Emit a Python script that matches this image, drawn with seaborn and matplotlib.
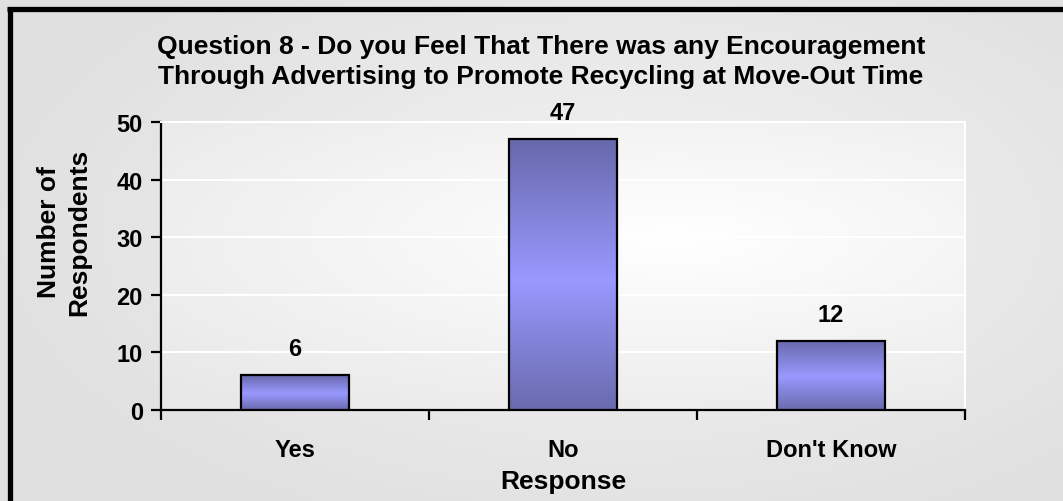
import numpy as np
import pandas as pd
import matplotlib
matplotlib.use("Agg")
import matplotlib.pyplot as plt
import seaborn as sns
from matplotlib.colors import LinearSegmentedColormap

categories = ["Yes", "No", "Don't Know"]
values = [6, 47, 12]
yticks = [0, 10, 20, 30, 40, 50]
title = ("Question 8 - Do you Feel That There was any Encouragement\n"
         "Through Advertising to Promote Recycling at Move-Out Time")

sns.set_theme(style="white")
plt.rcParams['font.family'] = ['Liberation Sans', 'DejaVu Sans']
plt.rcParams['font.weight'] = 'bold'
plt.rcParams['text.color'] = 'black'
plt.rcParams['axes.labelcolor'] = 'black'
plt.rcParams['xtick.color'] = 'black'
plt.rcParams['ytick.color'] = 'black'

W, H = 1063, 502
fig = plt.figure(figsize=(W / 100, H / 100), dpi=100)

# figure background gradient
bg = fig.add_axes([0, 0, 1, 1], zorder=-10)
yy, xx = np.mgrid[0:H, 0:W]
r = np.sqrt(((xx - 620) / 650.0) ** 2 + ((yy - 230) / 330.0) ** 2)
g = np.clip(1 - r, 0, 1)
bgcmap = LinearSegmentedColormap.from_list("bg", ["#e0e0e0", "#f4f4f4"])
bg.imshow(g, cmap=bgcmap, aspect="auto", extent=[0, 1, 0, 1], vmin=0, vmax=1)
bg.set_xlim(0, 1)
bg.set_ylim(0, 1)
bg.axis("off")
# outer frame (top and left visible)
bg.plot([7 / W, 1], [1 - 10 / H, 1 - 10 / H], color="black", lw=3.8, solid_capstyle="butt")
bg.plot([10 / W, 10 / W], [0, 1 - 8 / H], color="black", lw=3.8, solid_capstyle="butt")

ax = fig.add_axes([161 / W, 91 / H, 804 / W, 288 / H])
ax.patch.set_alpha(0)

# plot area gradient
py, px = np.mgrid[0:200, 0:300]
pr = np.sqrt(((px - 190) / 260.0) ** 2 + ((py - 80) / 150.0) ** 2)
pg = np.clip(1 - pr, 0, 1)
pcmap = LinearSegmentedColormap.from_list("pa", ["#e8e8e8", "#ffffff"])
ax.imshow(pg, cmap=pcmap, aspect="auto", extent=[-0.5, 2.5, 0, 50],
          vmin=0, vmax=1, zorder=0, origin="upper")

df = pd.DataFrame({"Response": categories, "Count": values})
sns.barplot(data=df, x="Response", y="Count", ax=ax, width=0.4,
            color="#9999ff", edgecolor="black", linewidth=1.6, zorder=3)

barcmap = LinearSegmentedColormap.from_list(
    "bar", [(0.0, "#6868ac"), (0.52, "#9999ff"), (1.0, "#6a6aae")])
grad = np.linspace(0, 1, 256).reshape(-1, 1)
for p in ax.patches:
    x0, y0 = p.get_x(), p.get_y()
    w, h = p.get_width(), p.get_height()
    im = ax.imshow(grad, cmap=barcmap, aspect="auto",
                   extent=[x0, x0 + w, y0, y0 + h], zorder=3.5, origin="upper")
    im.set_clip_path(p)
    p.set_facecolor("none")
    p.set_zorder(4)
    ax.annotate(f"{int(h)}", (x0 + w / 2, h), xytext=(0, 11),
                textcoords="offset points", ha="center", va="bottom",
                fontsize=17, fontweight="bold", color="black", zorder=5)

ax.set_xlim(-0.5, 2.5)
ax.set_ylim(0, 50)
ax.set_yticks(yticks)
ax.set_yticklabels([str(t) for t in yticks], fontsize=17, fontweight="bold")
ax.yaxis.grid(True, color="white", lw=1.5, zorder=1)
ax.set_axisbelow(True)

ax.set_xticks(range(len(categories)))
ax.set_xticklabels(categories, fontsize=17, fontweight="bold")
ax.tick_params(axis="x", which="major", length=0, pad=20)
ax.set_xticks([-0.5, 0.5, 1.5, 2.5], minor=True)
ax.tick_params(axis="x", which="minor", length=7, width=1.6, color="black",
               direction="out", bottom=True)
ax.tick_params(axis="y", length=7, width=1.6, color="black",
               direction="out", left=True, pad=6)

for s in ["left", "bottom"]:
    ax.spines[s].set_color("black")
    ax.spines[s].set_linewidth(1.6)
for s in ["top", "right"]:
    ax.spines[s].set_color("white")
    ax.spines[s].set_linewidth(1.5)
    ax.spines[s].set_visible(True)

ax.set_xlabel("Response", fontsize=19, fontweight="bold", labelpad=6)
ax.set_ylabel("")
fig.text(64 / W, 1 - 232 / H, "Number of\nRespondents", rotation=90,
         ha="center", va="center", fontsize=19, fontweight="bold",
         linespacing=1.3)
fig.text(541 / W, 1 - 62 / H, title, ha="center", va="center",
         fontsize=19, fontweight="bold", linespacing=1.3)

fig.savefig("out.png", dpi=100)
